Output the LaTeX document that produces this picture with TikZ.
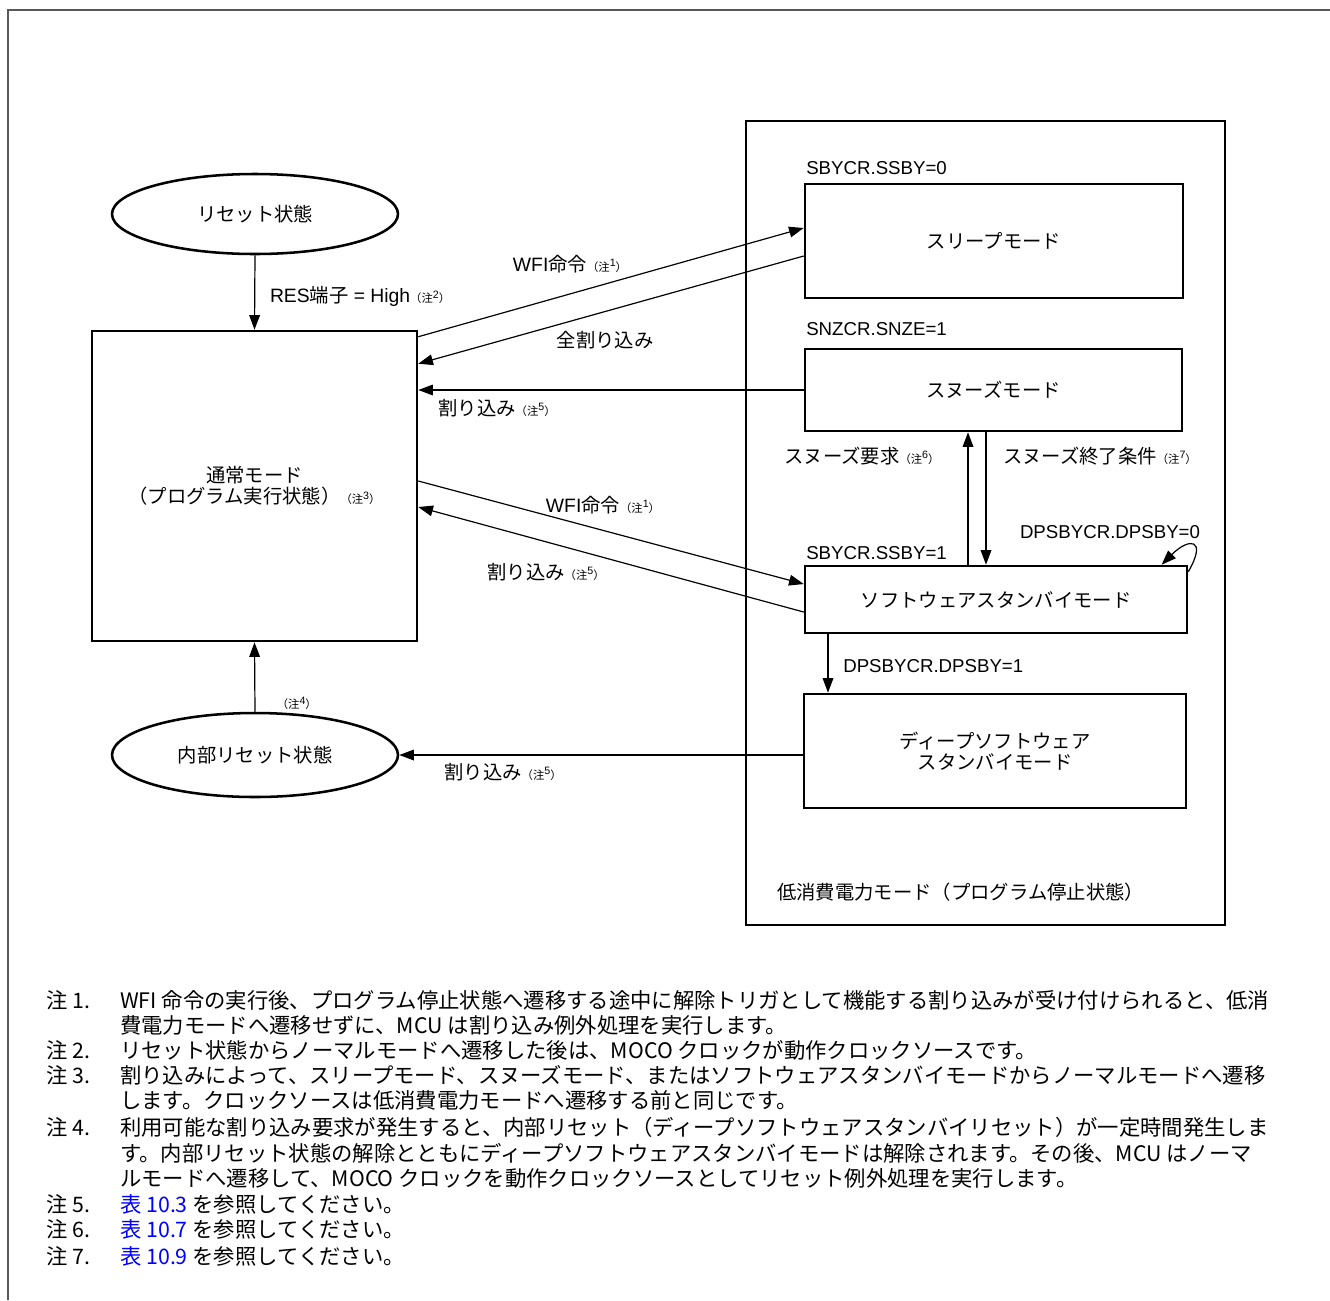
\documentclass[tikz,border=0pt]{standalone}
\usepackage{fontspec}
\setmainfont{Noto Sans CJK JP}
\newfontfamily\lat{Liberation Sans}
\usetikzlibrary{shapes.geometric,arrows.meta,positioning}
\newcommand{\churef}[1]{{\fontsize{8.5}{9}\selectfont （注\raisebox{0.4em}{\lat\fontsize{8}{9}\selectfont #1}）}}

\begin{document}
\begin{tikzpicture}[x=0.75pt, y=-0.75pt,
		font=\fontsize{14.5}{16}\selectfont,
		box/.style = {rectangle, draw, line width=1.9pt, align=center, inner sep=2pt},
		st/.style = {ellipse, draw, line width=1.9pt, inner sep=0pt},
		r/.style = {-{Triangle[length=11pt, width=8pt]}, line width=0.9pt},
		lbl/.style = {inner sep=0pt},
		note/.style = {inner sep=0pt, anchor=west, font=\fontsize{16}{19}\selectfont},
		frm/.style = {draw=black!65, line width=1.5pt}
		]
		\useasboundingbox (0,0) rectangle (1330,1300);
		
		%Frame
		\draw[frm]	(1330,10) -- (8,10) -- (8,1300);
		
		%Nodes
		\node[box, minimum width=359.25pt, minimum height=603pt]	(lpm)	at	(985.5,523)	{};
		\node[box, minimum width=283.5pt, minimum height=85.5pt]	(sl)	at	(994,241)	{スリープモード};
		\node[box, minimum width=282.75pt, minimum height=61.5pt]	(sn)	at	(993.5,390)	{スヌーズモード};
		\node[box, minimum width=286.5pt, minimum height=50.25pt]	(sb)	at	(996,599.5)	{ソフトウェアスタンバイモード};
		\node[box, minimum width=286.5pt, minimum height=85.5pt]	(dp)	at	(995,751)	{ディープソフトウェア\\スタンバイモード};
		\node[box, minimum width=243.75pt, minimum height=232.5pt]	(nm)	at	(254.5,486)	{通常モード\\（プログラム実行状態）\churef{3}};
		\node[st, minimum width=214.5pt, minimum height=60pt]	(rs)	at	(255,214)	{リセット状態};
		\node[st, minimum width=214.5pt, minimum height=63pt]	(ir)	at	(255,755)	{内部リセット状態};
		
		%Register labels
		\node[lbl, anchor=west, font=\lat\fontsize{14}{16}\selectfont]	(c-sl)	at	(806,168)	{SBYCR.SSBY=0};
		\node[lbl, anchor=west, font=\lat\fontsize{14}{16}\selectfont]	(c-sn)	at	(806,329)	{SNZCR.SNZE=1};
		\node[lbl, anchor=west, font=\lat\fontsize{14}{16}\selectfont]	(c-sb)	at	(806,553)	{SBYCR.SSBY=1};
		\node[lbl, font=\lat\fontsize{14}{16}\selectfont]	(c-loop)	at	(1110,532)	{DPSBYCR.DPSBY=0};
		\node[lbl, anchor=west]	(c-lpm)	at	(777,892)	{低消費電力モード（プログラム停止状態）};
		
		%Lines
		\draw[r]	(rs.south)	to	node[lbl, right, xshift=11pt, yshift=-3pt] (l-res) {{\lat RES}端子{\lat{} = High}\churef{2}}	(nm.north);
		\draw[r]	([yshift=-5.25pt]nm.north east)	--	([yshift=9.75pt]sl.west);
		\draw[r]	([yshift=-11.25pt]sl.west)	--	([yshift=-25.5pt]nm.north east);
		\draw[r]	(sn.west)	--	(nm.east |- sn.west);
		\draw[r]	([yshift=3.75pt]nm.east)	--	([yshift=11.6pt]sb.west);
		\draw[r]	([yshift=-9.4pt]sb.west)	--	([yshift=-15.75pt]nm.east);
		\draw[r]	([xshift=-21pt]sb.north)	--	([xshift=-21pt]sb.north |- sn.south);
		\draw[r]	([xshift=-7.5pt]sb.north |- sn.south)	--	([xshift=-7.5pt]sb.north);
		\draw[r]	([yshift=-5.25pt]sb.north east)	to[out=60, in=45, looseness=3.6]	([xshift=-20pt]sb.north east);
		\draw[r]	([xshift=-126pt]sb.south)	to	node[lbl, right, xshift=11pt, pos=0.54, font=\lat\fontsize{14}{16}\selectfont] (l-dp1) {DPSBYCR.DPSBY=1}	([xshift=-126pt]sb.south |- dp.north);
		\draw[r]	(dp.west |- ir.east)	--	(ir.east);
		\draw[r]	(ir.north)	to	node[lbl, right, xshift=16pt, pos=0.12] (l-n4) {\churef{4}}	(nm.south);
		
		%Line labels
		\node[lbl]	(l-wfi1)	at	(570,264)	{{\lat WFI}命令\churef{1}};
		\node[lbl]	(l-all)	at	(605,340)	{全割り込み};
		\node[lbl]	(l-int1)	at	(497,408)	{割り込み\churef{5}};
		\node[lbl]	(l-wfi2)	at	(603,505)	{{\lat WFI}命令\churef{1}};
		\node[lbl]	(l-int2)	at	(546,572)	{割り込み\churef{5}};
		\node[lbl]	(l-req)	at	(862,456)	{スヌーズ要求\churef{6}};
		\node[lbl]	(l-end)	at	(1100,456)	{スヌーズ終了条件\churef{7}};
		\node[lbl]	(l-int3)	at	(503,772)	{割り込み\churef{5}};
		
		%Notes
		\foreach \i/\yy in {1/1000, 2/1050, 3/1075, 4/1127, 5/1204, 6/1229, 7/1256}
			\node[note]	(k\i)	at	(46,\yy)	{注 \i.};
		\node[note]	(n1)	at	(120,1000)	{WFI 命令の実行後、プログラム停止状態へ遷移する途中に解除トリガとして機能する割り込みが受け付けられると、低消};
		\node[note]	(n1b)	at	(120,1025)	{費電力モードへ遷移せずに、MCU は割り込み例外処理を実行します。};
		\node[note]	(n2)	at	(120,1050)	{リセット状態からノーマルモードへ遷移した後は、MOCO クロックが動作クロックソースです。};
		\node[note]	(n3)	at	(120,1075)	{割り込みによって、スリープモード、スヌーズモード、またはソフトウェアスタンバイモードからノーマルモードへ遷移};
		\node[note]	(n3b)	at	(120,1100)	{します。クロックソースは低消費電力モードへ遷移する前と同じです。};
		\node[note]	(n4)	at	(120,1127)	{利用可能な割り込み要求が発生すると、内部リセット（ディープソフトウェアスタンバイリセット）が一定時間発生しま};
		\node[note]	(n4b)	at	(120,1153)	{す。内部リセット状態の解除とともにディープソフトウェアスタンバイモードは解除されます。その後、MCU はノーマ};
		\node[note]	(n4c)	at	(120,1178)	{ルモードへ遷移して、MOCO クロックを動作クロックソースとしてリセット例外処理を実行します。};
		\node[note]	(n5)	at	(120,1204)	{\textcolor{blue}{表 10.3} を参照してください。};
		\node[note]	(n6)	at	(120,1229)	{\textcolor{blue}{表 10.7} を参照してください。};
		\node[note]	(n7)	at	(120,1256)	{\textcolor{blue}{表 10.9} を参照してください。};
	\end{tikzpicture}
\end{document}
